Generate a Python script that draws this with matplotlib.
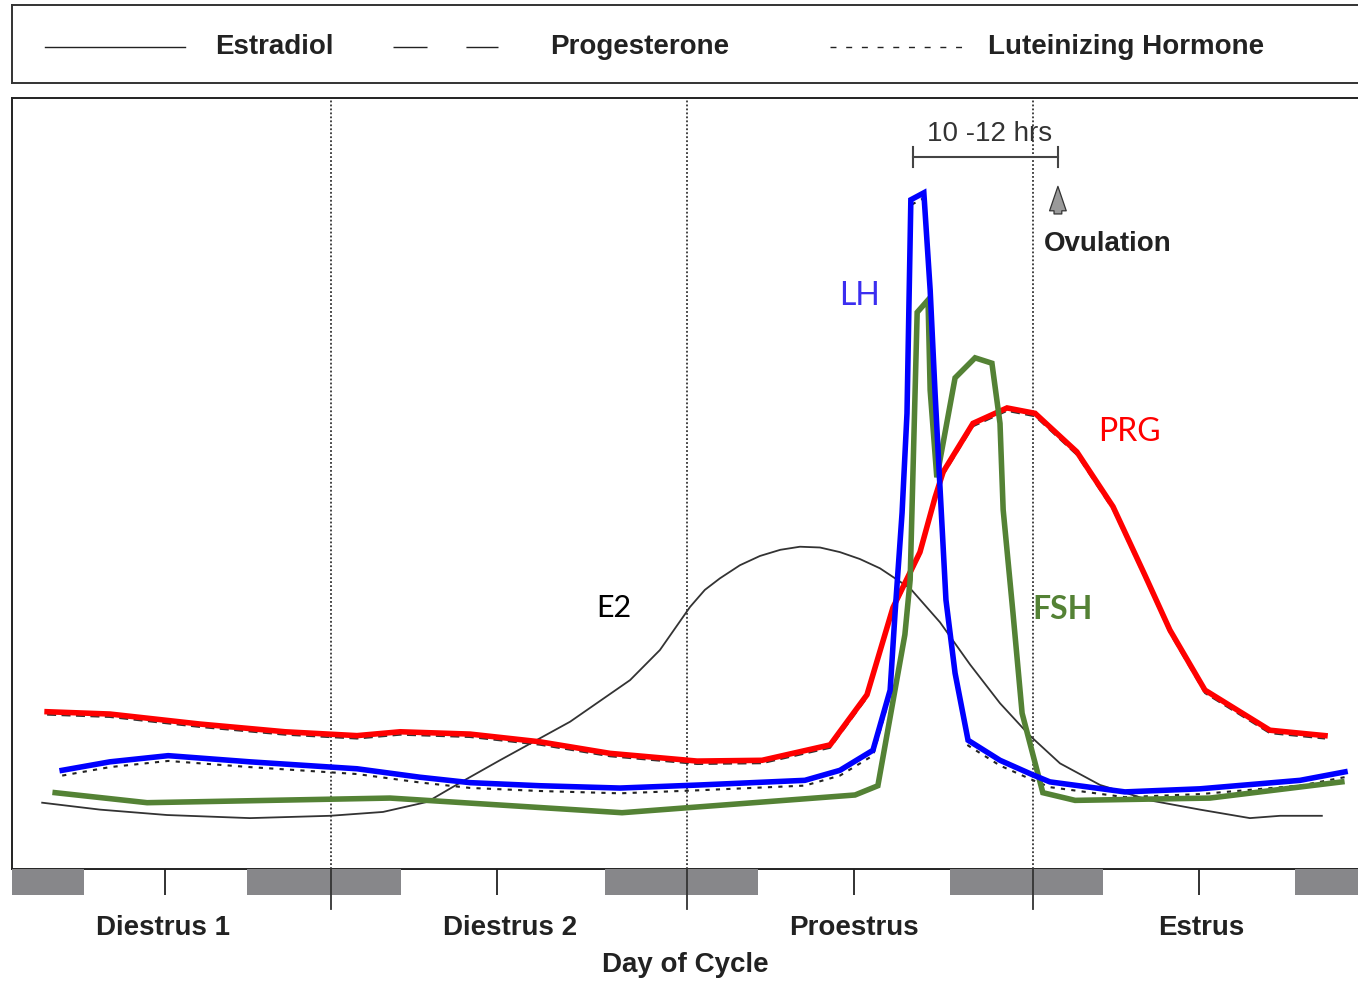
import matplotlib
matplotlib.use("Agg")
import matplotlib.pyplot as plt
import matplotlib.transforms as mtransforms

# x in days of the cycle (1, 2, 3 = midnight boundaries), y in arbitrary units 0-100
prg_x = [0.191, 0.370, 0.627, 0.869, 1.074, 1.197, 1.396, 1.595, 1.795, 2.043, 2.228,
         2.422, 2.527, 2.601, 2.678, 2.721, 2.744, 2.829, 2.926, 3.006, 3.125, 3.228,
         3.319, 3.390, 3.490, 3.675, 3.832]
prg_y = [20.4, 20.1, 18.8, 17.8, 17.3, 17.8, 17.5, 16.5, 15.0, 14.0, 14.1,
         16.1, 22.6, 33.9, 41.1, 48.2, 51.5, 57.8, 59.8, 59.1, 54.1, 47.0,
         38.1, 31.0, 23.2, 18.0, 17.3]

lh_x = [0.234, 0.370, 0.536, 0.769, 1.074, 1.254, 1.396, 1.595, 1.823, 2.051, 2.350,
        2.450, 2.544, 2.593, 2.607, 2.627, 2.641, 2.652, 2.689, 2.707, 2.721, 2.735,
        2.752, 2.778, 2.815, 2.906, 3.000, 3.048, 3.262, 3.476, 3.761, 3.889]
lh_y = [12.8, 13.9, 14.7, 13.9, 13.0, 11.9, 11.2, 10.8, 10.5, 10.9, 11.5,
        12.8, 15.4, 23.2, 33.2, 46.2, 59.1, 86.8, 87.7, 75.1, 61.7, 49.5,
        34.9, 25.4, 16.7, 14.1, 12.2, 11.3, 10.0, 10.4, 11.5, 12.6]

fsh_x = [0.214, 0.476, 1.168, 1.829, 2.493, 2.558, 2.635, 2.650, 2.670, 2.701, 2.707,
         2.726, 2.778, 2.835, 2.883, 2.906, 2.915, 2.943, 2.969, 3.028, 3.120, 3.504, 3.880]
fsh_y = [9.9, 8.6, 9.2, 7.3, 9.6, 10.8, 30.4, 37.5, 72.2, 73.8, 62.1,
         50.8, 63.7, 66.3, 65.6, 57.8, 46.6, 33.2, 20.2, 9.9, 8.9, 9.2, 11.3]

e2_x = [0.177, 0.342, 0.533, 0.769, 0.997, 1.148, 1.274, 1.368, 1.481, 1.681, 1.852,
        1.937, 2.023, 2.065, 2.108, 2.165, 2.222, 2.280, 2.336, 2.393, 2.450, 2.507,
        2.564, 2.650, 2.735, 2.821, 2.906, 2.991, 3.077, 3.191, 3.333, 3.476, 3.618,
        3.704, 3.823]
e2_y = [8.6, 7.7, 7.0, 6.6, 6.9, 7.4, 8.7, 11.2, 14.1, 19.1, 24.5,
        28.4, 34.0, 36.2, 37.7, 39.4, 40.6, 41.4, 41.8, 41.7, 41.1, 40.2,
        39.0, 36.4, 32.0, 26.5, 21.5, 17.3, 13.7, 10.9, 8.9, 7.7, 6.6,
        6.9, 6.9]

day_bounds = [1.0, 2.014, 3.0]
dark_start = [0.091, 0.761, 1.781, 2.764, 3.746]
dark_end = [0.296, 1.199, 2.217, 3.199, 3.926]
light_mid = [0.527, 1.473, 2.490, 3.473]
stage_names = ['Diestrus 1', 'Diestrus 2', 'Proestrus', 'Estrus']
stage_x = [0.52, 1.51, 2.49, 3.48]

legend_names = ['Estradiol', 'Progesterone', 'Luteinizing Hormone']

XMIN, XMAX = 0.091, 3.926
W, H = 1358, 986
sans = 'Liberation Sans'
calib = 'Lato'

fig = plt.figure(figsize=(W / 100, H / 100), dpi=100)
axw = (W - 12) / W

# legend box
axl = fig.add_axes([12 / W, 1 - 83 / H, axw, 78 / H])
axl.set_xlim(0, 1)
axl.set_ylim(0, 1)
axl.set_xticks([])
axl.set_yticks([])
axl.spines['right'].set_visible(False)
for s in ['top', 'left', 'bottom']:
    axl.spines[s].set_linewidth(1.4)
    axl.spines[s].set_color('#333333')
axl.plot([0.0245, 0.1285], [0.46, 0.46], color='#222222', lw=1.0)
axl.plot([0.283, 0.361], [0.46, 0.46], color='#222222', lw=1.0, dashes=(24.5, 28))
axl.plot([0.608, 0.708], [0.46, 0.46], color='#222222', lw=1.0, dashes=(4.3, 7.0))
for xt, name in zip([0.151, 0.400, 0.725], legend_names):
    axl.text(xt, 0.46, name, fontsize=20, fontweight='bold', family=sans,
             color='#222222', va='center', ha='left')

# main plot
ax = fig.add_axes([12 / W, 1 - 869 / H, axw, 771 / H])
ax.set_xlim(XMIN, XMAX)
ax.set_ylim(0, 100)
ax.set_xticks([])
ax.set_yticks([])
ax.spines['right'].set_visible(False)
for s in ['top', 'left', 'bottom']:
    ax.spines[s].set_linewidth(1.4)
    ax.spines[s].set_color('#222222')

for b in day_bounds:
    ax.axvline(b, color='#111111', lw=1.1, ls=(0, (1.2, 1.4)), zorder=1)

# original black traces peeking out under the coloured ones
sh_prg = mtransforms.offset_copy(ax.transData, fig=fig, x=0, y=-2.2, units='points')
sh_lh = mtransforms.offset_copy(ax.transData, fig=fig, x=0, y=-3.8, units='points')
ax.plot(prg_x, prg_y, color='#333333', lw=1.3, ls=(0, (5, 3)), transform=sh_prg, zorder=2)
ax.plot(lh_x, lh_y, color='#222222', lw=1.5, ls=(0, (2, 3)), transform=sh_lh, zorder=2)

ax.plot(e2_x, e2_y, color='#333333', lw=1.3, zorder=3)
ax.plot(prg_x, prg_y, color='#ff0000', lw=4.0, zorder=4, solid_joinstyle='miter')
ax.plot(fsh_x, fsh_y, color='#548235', lw=4.0, zorder=5, solid_joinstyle='miter')
ax.plot(lh_x, lh_y, color='#0000ff', lw=4.0, zorder=6, solid_joinstyle='miter')

ax.text(2.507, 74.3, 'LH', color='#3b2ef0', fontsize=23, family=calib, ha='center', va='center')
ax.text(1.806, 33.9, 'E2', color='black', fontsize=22, family=calib, ha='center', va='center')
ax.text(3.276, 56.7, 'PRG', color='#ff0000', fontsize=23, family=calib, ha='center', va='center')
ax.text(3.085, 33.7, 'FSH', color='#548235', fontsize=23, fontweight='bold', family=calib,
        ha='center', va='center')

# 10-12 hrs bracket
ax.plot([2.658, 3.071], [92.3, 92.3], color='#444444', lw=1.5)
for xb in [2.658, 3.071]:
    ax.plot([xb, xb], [91.1, 93.6], color='#444444', lw=1.5)
ax.text(2.877, 95.3, '10 -12 hrs', fontsize=20, family=sans, color='#333333',
        ha='center', va='center')

ax.annotate('', xy=(3.071, 88.9), xytext=(3.071, 84.6),
            arrowprops=dict(arrowstyle='simple,head_width=0.75,head_length=1.1,tail_width=0.35',
                            mutation_scale=16, fc='#9a9a9a', ec='#333333', lw=0.9))
ax.text(3.214, 81.1, 'Ovulation', fontsize=20, fontweight='bold', family=sans,
        color='#222222', ha='center', va='center')

# light / dark strip
axs = fig.add_axes([12 / W, 1 - 895 / H, axw, 26 / H])
axs.set_xlim(XMIN, XMAX)
axs.set_ylim(0, 1)
axs.axis('off')
for a, b in zip(dark_start, dark_end):
    axs.axvspan(a, b, color='#87878a', lw=0)
for t in light_mid:
    axs.plot([t, t], [0, 1], color='#222222', lw=1.3)
for b in day_bounds:
    axs.plot([b, b], [1, -14 / 26], color='#333333', lw=1.3, clip_on=False)
for xs, name in zip(stage_x, stage_names):
    axs.text(xs, -33 / 26, name, fontsize=20, fontweight='bold', family=sans,
             color='#222222', ha='center', va='center', clip_on=False)

fig.text(685 / W, 1 - 965 / H, 'Day of Cycle', fontsize=20, fontweight='bold', family=sans,
         color='#222222', ha='center', va='center')

fig.savefig('out.png', dpi=100)
